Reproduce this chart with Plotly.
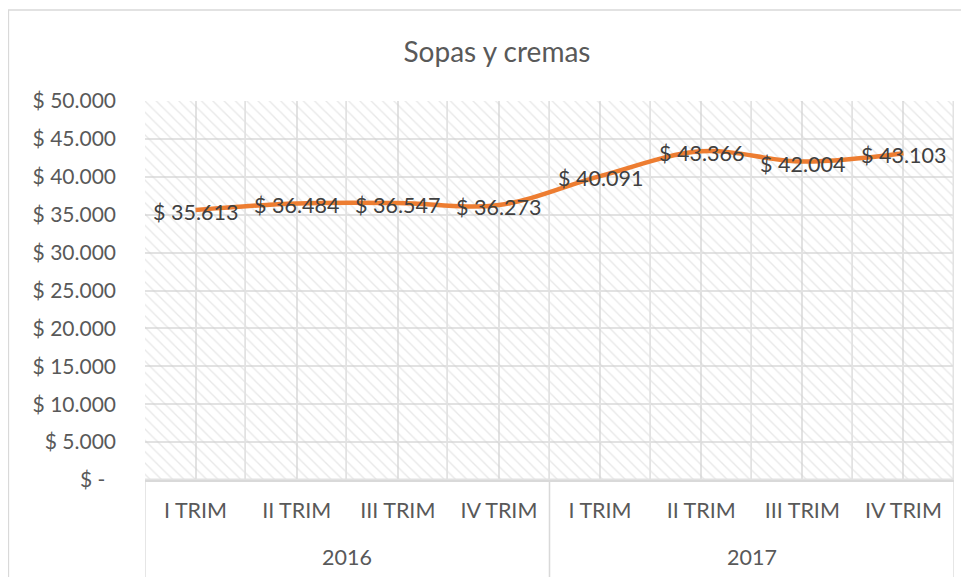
import plotly.graph_objects as go

years = ["2016", "2016", "2016", "2016", "2017", "2017", "2017", "2017"]
quarters = ["I TRIM", "II TRIM", "III TRIM", "IV TRIM", "I TRIM", "II TRIM", "III TRIM", "IV TRIM"]
values = [35613, 36484, 36547, 36273, 40091, 43366, 42004, 43103]
y_ticks = [0, 5000, 10000, 15000, 20000, 25000, 30000, 35000, 40000, 45000, 50000]

NB = "\u00a0"


def money(v):
    return f"${NB}{NB}-{NB}{NB}" if v == 0 else "$ " + f"{v:,}".replace(",", ".")


FONT = "Lato"
GRID = "#e2e2e2"
TXT = "#595959"
W, H = 961, 569          # page adds an 8px body margin
ML, MR, MT, MB = 137, 15, 93, 97
PW, PH = W - ML - MR, H - MT - MB

pos = list(range(len(values)))

fig = go.Figure()

# hatched plot-area background, one cell per category
fig.add_trace(go.Bar(
    x=pos,
    y=[y_ticks[-1]] * len(values),
    width=1,
    marker=dict(
        color="rgba(0,0,0,0)",
        line=dict(color=GRID, width=1.5),
        pattern=dict(shape="\\", fgcolor="#d2d2d2", bgcolor="rgba(0,0,0,0)",
                     size=8, solidity=0.17),
    ),
    hoverinfo="skip",
    showlegend=False,
))

fig.add_trace(go.Scatter(
    x=pos,
    y=values,
    mode="lines",
    line=dict(color="#ED7D31", width=4.5, shape="spline", smoothing=1),
    hoverinfo="skip",
    showlegend=False,
))

annotations = [dict(text=money(v), xref="x", yref="y", x=p, y=v, yshift=-2,
                    xanchor="center", yanchor="middle", showarrow=False,
                    font=dict(family=FONT, size=21.5, color="#404040"))
               for p, v in zip(pos, values)]

# year group labels and dividers
shapes = [dict(type="rect", xref="paper", yref="paper",
               x0=(0.5 - ML) / PW, x1=1.2, y0=-0.6, y1=(MT + PH - 2) / PH,
               line=dict(color="#d9d9d9", width=1.3), fillcolor="rgba(0,0,0,0)")]
for yr in dict.fromkeys(years):
    idx = [i for i, y in enumerate(years) if y == yr]
    lo, hi = min(idx) - 0.5, max(idx) + 0.5
    for xb in (lo, hi):
        shapes.append(dict(type="line", xref="x", yref="paper", x0=xb, x1=xb,
                           y0=0, y1=-0.6, line=dict(color="#d9d9d9", width=1.3)))
    annotations.append(dict(text=yr, xref="x", yref="paper", x=(lo + hi) / 2,
                            y=-77 / PH, xanchor="center", yanchor="middle",
                            showarrow=False,
                            font=dict(family=FONT, size=21.5, color=TXT)))

fig.update_layout(
    width=W, height=H,
    margin=dict(l=ML, r=MR, t=MT, b=MB),
    paper_bgcolor="white",
    plot_bgcolor="white",
    font=dict(family=FONT, color=TXT),
    title=dict(text="Sopas y cremas", x=489 / W, xref="container", xanchor="center",
               y=1 - 44 / H, yref="container", yanchor="middle",
               font=dict(family=FONT, size=28, color=TXT)),
    bargap=0,
    shapes=shapes,
    annotations=annotations,
)

fig.update_xaxes(
    range=[pos[0] - 0.5, pos[-1] + 0.5],
    tickvals=pos, ticktext=quarters,
    showgrid=True, gridcolor=GRID, gridwidth=1.5,
    showline=True, linecolor="#d9d9d9", linewidth=1.5,
    zeroline=False,
    ticks="", ticklabelstandoff=10,
    tickfont=dict(family=FONT, size=21.5, color=TXT),
)
fig.update_yaxes(
    range=[0, y_ticks[-1]],
    tickvals=y_ticks,
    ticktext=[money(v).replace(f"${NB}{NB}-", f"${NB}-") for v in y_ticks],
    showgrid=True, gridcolor=GRID, gridwidth=1.5,
    zeroline=False, showline=False,
    ticks="", ticklabelstandoff=28,
    tickfont=dict(family=FONT, size=21, color=TXT),
)

fig.write_html("out.html")
